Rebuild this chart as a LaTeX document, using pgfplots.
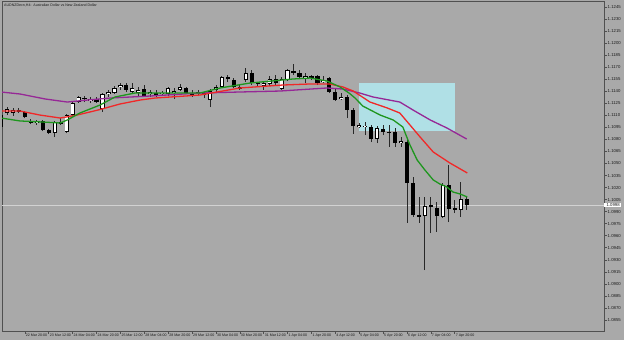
\documentclass[border=0pt]{standalone}
\usepackage{fontspec}
\setmainfont{Liberation Sans}
\usepackage{pgfplots}
\usepackage{pgfplotstable}
\pgfplotsset{compat=1.18}
\definecolor{bgc}{RGB}{169,169,169}
\definecolor{axc}{RGB}{80,80,80}
\definecolor{txc}{RGB}{25,25,25}
\definecolor{hlc}{RGB}{210,210,210}
\definecolor{rectc}{RGB}{176,224,230}
\definecolor{gma}{RGB}{30,150,30}
\definecolor{rma}{RGB}{240,40,40}
\definecolor{pma}{RGB}{150,40,150}
\definecolor{wickc}{RGB}{40,40,40}

\pgfplotstableread{
x o h l c
0 1.10955 1.11142 1.10942 1.11104
1 1.11129 1.11204 1.11104 1.11179
2 1.11129 1.11192 1.11092 1.11167
6 1.11005 1.11042 1.10980 1.11030
9 1.10880 1.11030 1.10830 1.11017
11 1.10892 1.11117 1.10880 1.11104
12 1.11104 1.11266 1.11092 1.11254
13 1.11266 1.11341 1.11254 1.11329
15 1.11279 1.11329 1.11254 1.11304
17 1.11179 1.11378 1.11142 1.11366
18 1.11366 1.11416 1.11329 1.11391
19 1.11378 1.11466 1.11366 1.11441
20 1.11453 1.11503 1.11416 1.11478
22 1.11391 1.11503 1.11378 1.11441
23 1.11378 1.11453 1.11341 1.11416
25 1.11366 1.11416 1.11329 1.11391
27 1.11366 1.11403 1.11341 1.11378
28 1.11366 1.11453 1.11341 1.11441
29 1.11378 1.11441 1.11304 1.11403
30 1.11416 1.11491 1.11403 1.11453
33 1.11366 1.11416 1.11341 1.11391
35 1.11291 1.11428 1.11204 1.11403
36 1.11416 1.11478 1.11391 1.11453
37 1.11453 1.11590 1.11441 1.11578
41 1.11540 1.11690 1.11515 1.11628
44 1.11466 1.11515 1.11416 1.11503
45 1.11491 1.11590 1.11466 1.11553
47 1.11428 1.11578 1.11416 1.11553
48 1.11540 1.11677 1.11528 1.11665
51 1.11565 1.11628 1.11503 1.11590
54 1.11515 1.11590 1.11503 1.11540
57 1.11304 1.11378 1.11291 1.11329
60 1.10955 1.11005 1.10942 1.10980
61 1.10955 1.11017 1.10855 1.10967
63 1.10805 1.10967 1.10755 1.10942
67 1.10755 1.10830 1.10706 1.10780
71 1.09846 1.10083 1.09173 1.09971
74 1.09834 1.10257 1.09821 1.10232
77 1.09921 1.10270 1.09834 1.10058
}\bull

\pgfplotstableread{
x o h l c
3 1.11167 1.11192 1.11129 1.11142
4 1.11142 1.11154 1.11067 1.11079
5 1.11030 1.11054 1.10992 1.11005
7 1.11030 1.11042 1.10905 1.10917
8 1.10917 1.10930 1.10868 1.10880
10 1.11017 1.11067 1.10980 1.10992
14 1.11316 1.11341 1.11266 1.11304
16 1.11304 1.11329 1.11254 1.11266
21 1.11478 1.11503 1.11391 1.11416
24 1.11428 1.11478 1.11329 1.11341
26 1.11378 1.11416 1.11329 1.11353
31 1.11441 1.11453 1.11366 1.11378
32 1.11378 1.11416 1.11329 1.11353
34 1.11378 1.11391 1.11316 1.11353
38 1.11578 1.11603 1.11515 1.11553
39 1.11540 1.11565 1.11441 1.11453
40 1.11453 1.11478 1.11416 1.11428
42 1.11628 1.11665 1.11478 1.11503
43 1.11503 1.11515 1.11453 1.11491
46 1.11553 1.11603 1.11478 1.11503
49 1.11652 1.11740 1.11603 1.11628
50 1.11628 1.11665 1.11565 1.11578
52 1.11590 1.11603 1.11540 1.11565
53 1.11590 1.11603 1.11478 1.11503
55 1.11565 1.11578 1.11378 1.11391
56 1.11391 1.11428 1.11279 1.11291
58 1.11329 1.11353 1.11067 1.11167
59 1.11167 1.11192 1.10868 1.10967
62 1.10955 1.10980 1.10768 1.10805
64 1.10930 1.10980 1.10855 1.10892
65 1.10892 1.10980 1.10706 1.10880
66 1.10892 1.10942 1.10706 1.10755
68 1.10768 1.10818 1.09759 1.10257
69 1.10257 1.10332 1.09834 1.09858
70 1.09858 1.10083 1.09759 1.09834
72 1.09983 1.10083 1.09634 1.09958
73 1.09946 1.10020 1.09647 1.09846
75 1.10232 1.10481 1.09771 1.09933
76 1.09946 1.10045 1.09883 1.09921
78 1.10058 1.10083 1.09921 1.09983
}\bear

\pgfplotstableread{
x y
0 1.11391
3.2 1.11366
7.4 1.11304
11.1 1.11266
14.5 1.11291
18.3 1.11316
25.0 1.11341
33.3 1.11378
40.0 1.11391
46.7 1.11403
54.6 1.11441
57.3 1.11428
60.1 1.11378
62.3 1.11329
66.8 1.11266
69.0 1.11167
71.9 1.11042
74.7 1.10942
78.0 1.10805
}\maslow

\pgfplotstableread{
x y
0 1.11154
3.2 1.11154
6.5 1.11104
9.9 1.11067
12.4 1.11098
14.9 1.11142
16.6 1.11173
19.9 1.11241
23.3 1.11291
25.8 1.11316
33.3 1.11353
40.0 1.11441
47.2 1.11478
51.8 1.11491
55.1 1.11491
57.3 1.11453
59.0 1.11403
61.8 1.11266
64.7 1.11192
66.8 1.11129
68.5 1.10980
70.2 1.10830
72.4 1.10643
75.2 1.10506
78.1 1.10382
}\mamid

\pgfplotstableread{
x y
0 1.11067
3.2 1.11030
7.0 1.11017
9.9 1.11005
11.1 1.11042
13.2 1.11129
16.6 1.11229
19.1 1.11329
22.4 1.11378
25.8 1.11378
33.3 1.11378
36.7 1.11441
41.7 1.11503
48.9 1.11553
51.8 1.11565
54.6 1.11528
56.8 1.11453
58.3 1.11378
59.3 1.11316
60.6 1.11216
63.5 1.11104
65.7 1.11042
67.3 1.10955
68.5 1.10731
69.7 1.10544
71.0 1.10419
72.4 1.10295
73.5 1.10245
74.7 1.10207
75.7 1.10145
76.9 1.10120
78.1 1.10083
}\mafast

\begin{document}
\begin{tikzpicture}
\fill[bgc] (0,0) rectangle (624bp,340bp);
\path[use as bounding box] (0,0) rectangle (624bp,340bp);
\begin{axis}[
  at={(2bp,9bp)}, anchor=south west,
  scale only axis, width=602bp, height=330bp,
  xmin=0.1675, xmax=101.0, ymin=1.08413, ymax=1.12525,
  clip mode=individual,
  axis line style={draw=axc, line width=0.8bp},
  tick align=outside, xtick pos=bottom, ytick pos=right, yticklabel pos=right,
  major tick length=2.5bp,
  tick style={draw=axc, line width=0.6bp},
  xtick={0,4,...,76},
  xticklabels={22 Mar 2016,22 Mar 20:00,23 Mar 12:00,24 Mar 04:00,24 Mar 20:00,25 Mar 12:00,28 Mar 04:00,28 Mar 20:00,29 Mar 12:00,30 Mar 04:00,30 Mar 20:00,31 Mar 12:00,1 Apr 04:00,1 Apr 20:00,4 Apr 12:00,5 Apr 04:00,5 Apr 20:00,6 Apr 12:00,7 Apr 04:00,7 Apr 20:00},
  xticklabel style={anchor=north west, font=\fontsize{3.6}{4}\selectfont, text=txc, inner sep=0.6bp, xshift=0.3bp},
  ytick={1.0855,1.0870,1.0885,1.0900,1.0915,1.0930,1.0945,1.0960,1.0975,1.0990,1.1005,1.1020,1.1035,1.1050,1.1065,1.1080,1.1095,1.1110,1.1125,1.1140,1.1155,1.1170,1.1185,1.1200,1.1215,1.1230,1.1245},
  /pgf/number format/assume math mode=true,
  yticklabel style={font=\fontsize{4.3}{5}\selectfont, text=txc, inner sep=1bp, /pgf/number format/.cd, fixed, fixed zerofill, precision=4},
  scaled y ticks=false,
  axis background/.style={fill=bgc},
]
% rectangle object
\addplot[draw=none, fill=rectc, forget plot] coordinates {(59.97,1.11503) (76.05,1.11503) (76.05,1.10905) (59.97,1.10905)} -- cycle;
% horizontal price line
\addplot[hlc, line width=0.9bp, forget plot] coordinates {(0,1.09983) (101,1.09983)};
% wicks
\addplot[draw=none, mark=none, forget plot,
  error bars/.cd, y dir=plus, y explicit, error mark=none,
  error bar style={line width=0.85bp, draw=wickc}]
  table[x=x, y=l, y error expr=\thisrow{h}-\thisrow{l}] {\bull};
\addplot[draw=none, mark=none, forget plot,
  error bars/.cd, y dir=plus, y explicit, error mark=none,
  error bar style={line width=0.85bp, draw=wickc}]
  table[x=x, y=l, y error expr=\thisrow{h}-\thisrow{l}] {\bear};
% bear bodies
\addplot[draw=none, mark=none, forget plot,
  error bars/.cd, y dir=plus, y explicit, error mark=none,
  error bar style={line width=4.2bp, draw=black}]
  table[x=x, y=c, y error expr=\thisrow{o}-\thisrow{c}] {\bear};
% bull bodies: outline then white fill
\addplot[draw=none, mark=none, forget plot,
  error bars/.cd, y dir=plus, y explicit, error mark=none,
  error bar style={line width=4.2bp, draw=black}]
  table[x=x, y=o, y error expr=\thisrow{c}-\thisrow{o}] {\bull};
\addplot[draw=none, mark=none, forget plot,
  error bars/.cd, y dir=plus, y explicit, error mark=none,
  error bar style={line width=2.4bp, draw=white}]
  table[x=x, y expr=\thisrow{o}+0.000112, y error expr=\thisrow{c}-\thisrow{o}-0.000224] {\bull};
% moving averages
\addplot[pma, line width=1.3bp, mark=none] table[x=x, y=y] {\maslow};
\addplot[rma, line width=1.3bp, mark=none] table[x=x, y=y] {\mamid};
\addplot[gma, line width=1.3bp, mark=none] table[x=x, y=y] {\mafast};
% current price label
\node[fill=white, anchor=west, inner sep=0.8bp, font=\fontsize{4.3}{5}\selectfont, text=txc] at (axis cs:101,1.09983) {\hspace{1.6bp}1.0998};
\node[anchor=north west, font=\fontsize{3.6}{4}\selectfont, text=txc, inner sep=0pt] at ([xshift=2bp,yshift=-2.5bp]rel axis cs:0,1) {AUDNZDecn,H4:\ \ Australian Dollar vs New Zealand Dollar};
\end{axis}
\end{tikzpicture}
\end{document}
